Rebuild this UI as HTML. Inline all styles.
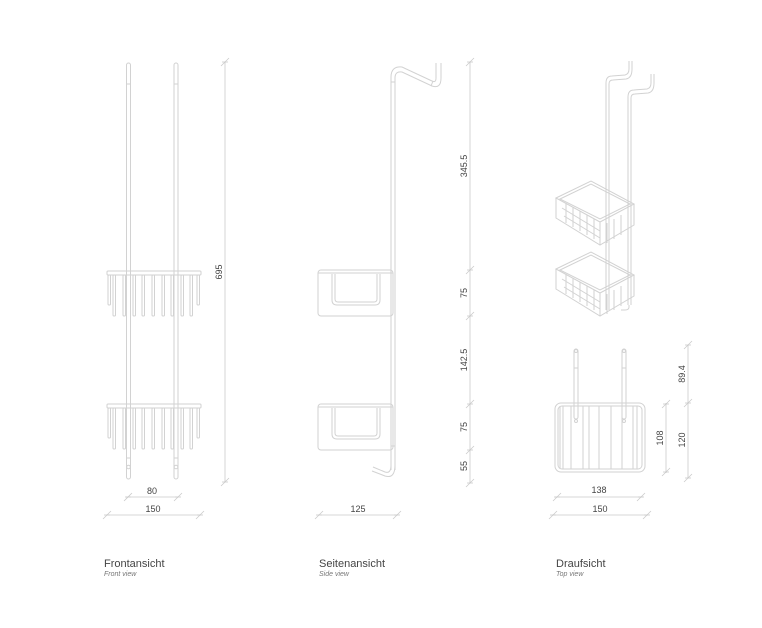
<!DOCTYPE html>
<html><head><meta charset="utf-8"><style>
html,body{margin:0;padding:0;background:#fff;}
svg{display:block;font-family:"Liberation Sans",sans-serif;}
.l{fill:none;stroke:#d2d2d2;stroke-width:1;}
.d{fill:none;stroke:#cacaca;stroke-width:0.8;}
.t{font-size:9px;fill:#444;}
</style></head><body>
<svg width="762" height="628" viewBox="0 0 762 628" xmlns="http://www.w3.org/2000/svg">
<defs>
<g id="tick"><line x1="-4" y1="4" x2="4" y2="-4" class="d"/><line x1="-3" y1="0" x2="3" y2="0" class="d"/></g>
<g id="tines">
<rect x="107" y="271" width="94" height="4" rx="1" class="l"/>
<rect x="108" y="275" width="2.5" height="30" rx="1" class="l"/>
<rect x="113" y="275" width="2.5" height="41" rx="1" class="l"/>
<rect x="123" y="275" width="2.5" height="41" rx="1" class="l"/>
<rect x="133" y="275" width="2.5" height="41" rx="1" class="l"/>
<rect x="142" y="275" width="2.5" height="41" rx="1" class="l"/>
<rect x="152" y="275" width="2.5" height="41" rx="1" class="l"/>
<rect x="162" y="275" width="2.5" height="41" rx="1" class="l"/>
<rect x="171" y="275" width="2.5" height="41" rx="1" class="l"/>
<rect x="181" y="275" width="2.5" height="41" rx="1" class="l"/>
<rect x="190" y="275" width="2.5" height="41" rx="1" class="l"/>
<rect x="197" y="275" width="2.5" height="30" rx="1" class="l"/>
</g>
<g id="sbask">
<rect x="318" y="270" width="75" height="46" rx="3" class="l"/>
<line x1="318" y1="273" x2="393" y2="273" class="l"/>
<path d="M332 274 V300 Q332 305 337 305 H375 Q380 305 380 300 V274" class="l"/>
<path d="M335 274 V299 Q335 302 338 302 H374 Q377 302 377 299 V274" class="l"/>
</g>
<g id="iso">
<path d="M556 198 L591 181 L634 204 L600 222 Z" class="l"/>
<path d="M560 199 L591 184 L630 204 L600 219 Z" class="l"/>
<path d="M556 198 V218 L600 245 L634 225 V204" class="l"/>
<path d="M600 222 V245" class="l"/>
<path d="M562 208 L600 231 M564 216 L600 238" class="l"/>
<path d="M607 223 V243 M614 219 V239 M621 215 V235 M628 211 V231" class="l"/>
<path d="M566 203 V223 M573 207 V227 M580 211 V231 M587 215 V235 M594 219 V239" class="l"/>
</g>
</defs>

<!-- FRONT VIEW -->
<rect x="126.5" y="63" width="4" height="416" rx="2" class="l"/>
<rect x="174" y="63" width="4" height="416" rx="2" class="l"/>
<line x1="126.5" y1="84" x2="130.5" y2="84" class="l"/>
<line x1="174" y1="84" x2="178" y2="84" class="l"/>
<line x1="126.5" y1="458" x2="130.5" y2="458" class="l"/>
<line x1="174" y1="458" x2="178" y2="458" class="l"/>
<circle cx="128.5" cy="467" r="1.8" class="l"/>
<circle cx="176" cy="467" r="1.8" class="l"/>
<use href="#tines"/>
<use href="#tines" y="133"/>
<line x1="225" y1="62" x2="225" y2="482" class="d"/>
<use href="#tick" x="225" y="62"/><use href="#tick" x="225" y="482"/>
<text class="t" transform="translate(222,272) rotate(-90)" text-anchor="middle">695</text>
<line x1="126" y1="497" x2="178" y2="497" class="d"/>
<use href="#tick" x="128" y="497"/><use href="#tick" x="178" y="497"/>
<text class="t" x="152" y="494" text-anchor="middle">80</text>
<line x1="106" y1="515" x2="201" y2="515" class="d"/>
<use href="#tick" x="107" y="515"/><use href="#tick" x="200" y="515"/>
<text class="t" x="153" y="512" text-anchor="middle">150</text>

<!-- SIDE VIEW -->
<path d="M391 470 V77 Q391 66 402 67 L432 81 Q436 83 436 78 V63 M395 470 V78 Q395 71 402 72 L432 86 Q441 89 441 78 V63" class="l"/>
<line x1="391" y1="82" x2="395" y2="82" class="l"/>
<line x1="433" y1="81" x2="431" y2="86" class="l"/>
<path d="M391 465 Q391 474 385 472 L373 467 M395 465 Q395 479 385 476 L372 471" class="l"/>
<line x1="391" y1="446" x2="395" y2="446" class="l"/>
<use href="#sbask"/>
<use href="#sbask" y="134"/>
<line x1="470" y1="62" x2="470" y2="483" class="d"/>
<use href="#tick" x="470" y="62"/><use href="#tick" x="470" y="270"/><use href="#tick" x="470" y="316"/><use href="#tick" x="470" y="404"/><use href="#tick" x="470" y="450"/><use href="#tick" x="470" y="483"/>
<text class="t" transform="translate(467,166) rotate(-90)" text-anchor="middle">345.5</text>
<text class="t" transform="translate(467,293) rotate(-90)" text-anchor="middle">75</text>
<text class="t" transform="translate(467,360) rotate(-90)" text-anchor="middle">142.5</text>
<text class="t" transform="translate(467,427) rotate(-90)" text-anchor="middle">75</text>
<text class="t" transform="translate(467,466) rotate(-90)" text-anchor="middle">55</text>
<line x1="318" y1="515" x2="398" y2="515" class="d"/>
<use href="#tick" x="319" y="515"/><use href="#tick" x="397" y="515"/>
<text class="t" x="358" y="512" text-anchor="middle">125</text>

<!-- ISO VIEW -->
<path d="M606 310 V83 Q606 76 612 76 L625 75 Q629 74 629 69 V61 M609 310 V84 Q609 80 613 80 L626 79 Q632 78 632 69 V61" class="l"/>
<path d="M628 305 V97 Q628 90 634 90 L647 89 Q651 88 651 83 V74 M631 305 V98 Q631 94 635 94 L648 93 Q654 92 654 83 V74" class="l"/>
<path d="M629 305 V307 Q629 310 625 310 L621 310" class="l"/>
<use href="#iso"/>
<use href="#iso" y="71"/>

<!-- TOP VIEW -->
<rect x="574" y="349" width="4" height="70" rx="2" class="l"/>
<rect x="622" y="349" width="4" height="70" rx="2" class="l"/>
<circle cx="576" cy="351" r="1.5" class="l"/><circle cx="624" cy="351" r="1.5" class="l"/>
<circle cx="576" cy="421" r="1.5" class="l"/><circle cx="624" cy="421" r="1.5" class="l"/>
<line x1="574" y1="368" x2="578" y2="368" class="l"/><line x1="622" y1="368" x2="626" y2="368" class="l"/>
<rect x="555" y="403" width="90" height="69" rx="6" class="l"/>
<rect x="558" y="406" width="84" height="63" rx="4" class="l"/>
<path d="M571 406 V469 M583 406 V469 M589 406 V469 M599 406 V469 M611 406 V469 M622 406 V469 M633 406 V469 M637 406 V469 M560 406 V469 M563 406 V469" class="l"/>
<line x1="688" y1="345" x2="688" y2="478" class="d"/>
<use href="#tick" x="688" y="345"/><use href="#tick" x="688" y="403"/><use href="#tick" x="688" y="478"/>
<text class="t" transform="translate(685,374) rotate(-90)" text-anchor="middle">89.4</text>
<text class="t" transform="translate(685,440) rotate(-90)" text-anchor="middle">120</text>
<line x1="666" y1="403" x2="666" y2="473" class="d"/>
<use href="#tick" x="666" y="404"/><use href="#tick" x="666" y="472"/>
<text class="t" transform="translate(663,438) rotate(-90)" text-anchor="middle">108</text>
<line x1="555" y1="497" x2="643" y2="497" class="d"/>
<use href="#tick" x="557" y="497"/><use href="#tick" x="641" y="497"/>
<text class="t" x="599" y="493" text-anchor="middle">138</text>
<line x1="552" y1="515" x2="648" y2="515" class="d"/>
<use href="#tick" x="553" y="515"/><use href="#tick" x="647" y="515"/>
<text class="t" x="600" y="512" text-anchor="middle">150</text>

<!-- TITLES -->
<text x="104" y="567" style="font-size:11px;fill:#444">Frontansicht</text>
<text x="104" y="576" style="font-size:7px;font-style:italic;fill:#777">Front view</text>
<text x="319" y="567" style="font-size:11px;fill:#444">Seitenansicht</text>
<text x="319" y="576" style="font-size:7px;font-style:italic;fill:#777">Side view</text>
<text x="556" y="567" style="font-size:11px;fill:#444">Draufsicht</text>
<text x="556" y="576" style="font-size:7px;font-style:italic;fill:#777">Top view</text>
</svg>
</body></html>
